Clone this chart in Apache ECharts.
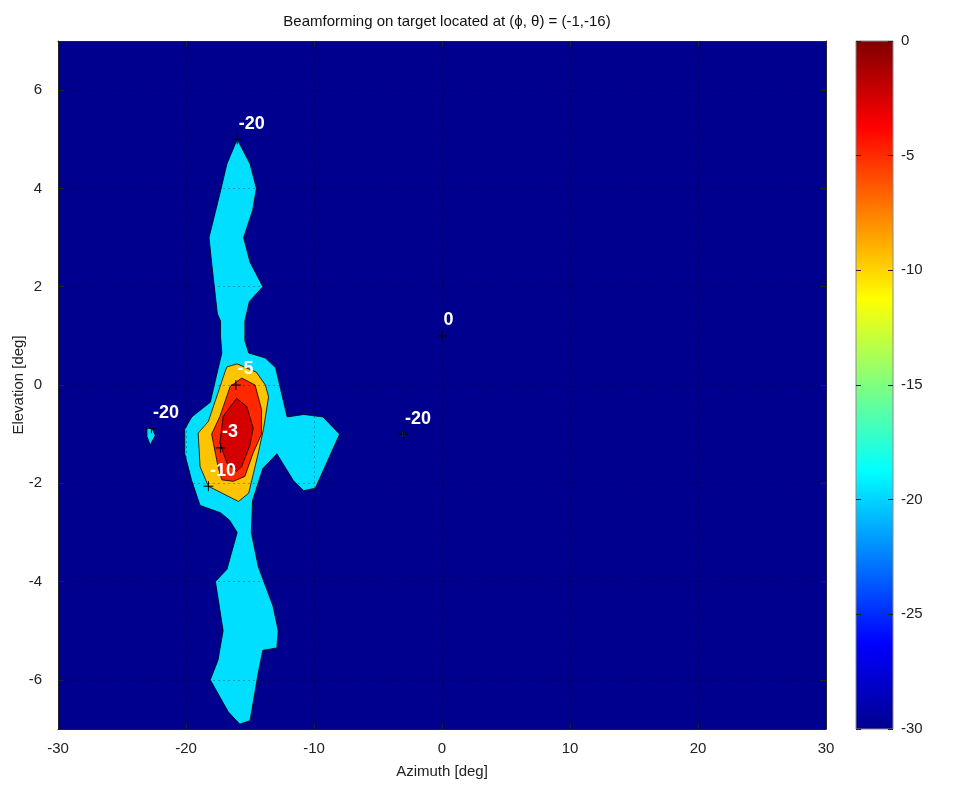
<!DOCTYPE html>
<html><head><meta charset="utf-8">
<script src="https://cdn.jsdelivr.net/npm/echarts@6/dist/echarts.min.js"></script>
<style>html,body{margin:0;padding:0;background:#fff}#c{width:960px;height:790px}</style>
</head><body><div id="c"></div>
<script>
// ---- data (azimuth deg, elevation deg) ----
const contourLevels = [-20, -10, -5, -3];
const levelColors = ['#00dfff', '#ffc400', '#ff2800', '#d40000'];
const backgroundLevelColor = '#00008f';

const contour20Main = [
  [-16.0,5.0],[-15.0,4.5],[-14.5,4.0],[-14.8,3.55],[-15.5,3.0],[-15.0,2.5],[-14.0,2.0],[-15.05,1.7],
  [-15.4,1.3],[-15.4,0.9],[-15.1,0.65],[-13.8,0.55],[-13.0,0.35],[-12.1,-0.65],[-10.8,-0.6],[-9.3,-0.65],
  [-8.0,-1.0],[-9.9,-2.1],[-10.8,-2.15],[-11.6,-1.95],[-12.9,-1.4],[-14.0,-1.7],[-14.8,-2.35],[-14.9,-3.0],
  [-14.35,-3.7],[-13.2,-4.5],[-12.8,-5.0],[-12.9,-5.35],[-14.0,-5.4],[-14.35,-5.85],[-15.0,-6.83],[-15.8,-6.9],
  [-16.7,-6.65],[-18.1,-6.0],[-17.5,-5.6],[-17.1,-5.0],[-17.7,-4.0],[-16.8,-3.75],[-16.0,-3.0],[-16.6,-2.75],
  [-17.3,-2.6],[-18.9,-2.45],[-19.55,-1.95],[-20.1,-1.4],[-20.1,-0.9],[-19.55,-0.65],[-18.1,-0.35],[-17.7,0.1],
  [-17.2,0.65],[-17.3,1.0],[-17.3,1.3],[-17.55,1.45],[-18.0,2.5],[-18.2,3.0],[-17.3,3.95],[-16.8,4.5]
];
const contour20Left = [[-23.05,-0.85],[-22.6,-0.91],[-22.4,-1.03],[-22.8,-1.22],[-23.05,-1.05]];
const contour20Right = [[-3.1,-0.95],[-2.9,-0.97],[-2.95,-1.08],[-3.1,-1.05]];
const contour10 = [
  [-16.8,0.37],[-16.0,0.43],[-14.5,0.26],[-13.8,0.0],[-13.55,-0.24],[-13.95,-0.9],[-14.35,-1.38],
  [-15.1,-2.2],[-15.9,-2.37],[-18.25,-2.06],[-18.9,-1.66],[-19.05,-0.98],[-18.25,-0.74],[-16.95,0.27]
];
const contour5 = [
  [-16.55,-0.03],[-15.65,0.14],[-14.6,0.0],[-14.1,-0.5],[-14.1,-1.0],[-14.75,-1.38],[-15.4,-1.86],
  [-16.3,-1.96],[-17.2,-1.93],[-17.5,-1.66],[-18.0,-1.0],[-17.35,-0.64]
];
const contour3 = [
  [-16.05,-0.27],[-15.25,-0.44],[-14.75,-0.88],[-15.0,-1.22],[-15.65,-1.66],[-16.05,-1.76],
  [-16.8,-1.59],[-17.35,-1.18],[-17.1,-0.64]
];
const labelPoints = [[-16,5],[0,1],[-22.7,-0.88],[-3,-1],[-16.1,0],[-17.3,-1.28],[-18.25,-2.06]];
const labelTexts = ['-20','0','-20','-20','-5','-3','-10'];
const xTicks = [-30,-20,-10,0,10,20,30];
const yTicks = [-6,-4,-2,0,2,4,6];
const colorbarRange = [-30, 0];

const polygonsByLevel = [[contour20Main, contour20Left, contour20Right],[contour10],[contour5],[contour3]];

const FONT = 'Liberation Sans, Arial, Helvetica, sans-serif';
const chart = echarts.init(document.getElementById('c'), null, {renderer:'canvas'});

function polySeries(polys, color){
  return {
    type:'custom', xAxisIndex:0, yAxisIndex:0, clip:true, z:2,
    data: polys.map(p => p[0]),
    renderItem: function(params, api){
      const pts = polys[params.dataIndex].map(p => api.coord(p));
      return {type:'polygon', shape:{points:pts}, style:{fill:color, stroke:'#000', lineWidth:0.8}};
    },
    silent:true
  };
}

const series = polygonsByLevel.map((polys,i) => polySeries(polys, levelColors[i]));
series.push({
  type:'scatter', xAxisIndex:0, yAxisIndex:0, z:10,
  data: labelPoints,
  symbol:'path://M0 5 L10 5 M5 0 L5 10', symbolSize:10,
  itemStyle:{color:'transparent', borderColor:'#000', borderWidth:1, opacity:1},
  label:{show:true, formatter: p => labelTexts[p.dataIndex], position:[7,-19], align:'left', verticalAlign:'top',
    color:'#fff', fontWeight:'bold', fontSize:18, fontFamily:FONT},
  silent:true
});
series.push({
  type:'custom', xAxisIndex:2, yAxisIndex:2, z:2,
  data:[[0, colorbarRange[1]]],
  renderItem: function(params, api){
    const a = api.coord([0, colorbarRange[1]]), b = api.coord([1, colorbarRange[0]]);
    return {type:'rect', shape:{x:a[0], y:a[1], width:b[0]-a[0], height:b[1]-a[1]},
      style:{fill:new echarts.graphic.LinearGradient(0,0,0,1,[
        {offset:0,color:'#800000'},{offset:0.125,color:'#ff0000'},{offset:0.375,color:'#ffff00'},
        {offset:0.625,color:'#00ffff'},{offset:0.875,color:'#0000ff'},{offset:1,color:'#00008f'}]),
        stroke:'#888', lineWidth:1}};
  },
  silent:true
});

const tickLabel = {fontSize:15, color:'#222', fontFamily:FONT};
const gridLineStyle = {type:[2,3], color:'rgba(0,0,0,0.3)', width:1};
const option = {
  animation:false,
  backgroundColor:'#fff',
  title:{text:'Beamforming on target located at (\u03d5, \u03b8) = (-1,-16)', left:442, top:9, textAlign:'center',
    textStyle:{fontSize:15, fontWeight:'normal', color:'#111', fontFamily:FONT}},
  grid:[
    {left:58, top:41, width:768, height:688, show:true, backgroundColor:backgroundLevelColor, borderWidth:0,
      containLabel:false, outerBoundsMode:'none'},
    {left:856, top:41, width:37, height:688, show:false, containLabel:false, outerBoundsMode:'none'}
  ],
  xAxis:[
    {gridIndex:0, type:'value', min:-30, max:30, interval:10, position:'bottom', z:5,
      axisLine:{show:true, onZero:false, lineStyle:{color:'#222', width:1}},
      axisTick:{show:true, inside:true, length:6, lineStyle:{color:'#222'}},
      axisLabel:Object.assign({margin:12}, tickLabel),
      splitLine:{show:true, lineStyle:gridLineStyle},
      name:'Azimuth [deg]', nameLocation:'middle', nameGap:35, nameMoveOverlap:false,
      nameTextStyle:{fontSize:15, color:'#222', fontFamily:FONT}},
    {gridIndex:0, type:'value', min:-30, max:30, interval:10, position:'top', z:5,
      axisLine:{show:true, onZero:false, lineStyle:{color:'#222', width:1}},
      axisTick:{show:true, inside:true, length:6, lineStyle:{color:'#222'}},
      axisLabel:{show:false}, splitLine:{show:false}},
    {gridIndex:1, type:'value', min:0, max:1, show:false}
  ],
  yAxis:[
    {gridIndex:0, type:'value', min:-7, max:7, position:'left', z:5,
      axisLine:{show:true, onZero:false, lineStyle:{color:'#222', width:1}},
      axisTick:{show:true, inside:true, length:6, customValues:yTicks, lineStyle:{color:'#222'}},
      axisLabel:Object.assign({margin:16, customValues:yTicks}, tickLabel),
      splitLine:{show:true, lineStyle:gridLineStyle},
      name:'Elevation [deg]', nameLocation:'middle', nameGap:32, nameMoveOverlap:false,
      nameTextStyle:{fontSize:15, color:'#222', fontFamily:FONT}},
    {gridIndex:0, type:'value', min:-7, max:7, position:'right', z:5,
      axisLine:{show:true, onZero:false, lineStyle:{color:'#222', width:1}},
      axisTick:{show:true, inside:true, length:6, customValues:yTicks, lineStyle:{color:'#222'}},
      axisLabel:{show:false}, splitLine:{show:false}},
    {gridIndex:1, type:'value', min:colorbarRange[0], max:colorbarRange[1], interval:5, position:'right', z:5,
      axisLine:{show:false, onZero:false},
      axisTick:{show:true, inside:true, length:5, lineStyle:{color:'#222'}},
      axisLabel:Object.assign({margin:8}, tickLabel),
      splitLine:{show:false}},
    {gridIndex:1, type:'value', min:colorbarRange[0], max:colorbarRange[1], interval:5, position:'left', z:5,
      axisLine:{show:false, onZero:false},
      axisTick:{show:true, inside:true, length:5, lineStyle:{color:'#222'}},
      axisLabel:{show:false}, splitLine:{show:false}}
  ],
  series: series
};
chart.setOption(option);
</script>
</body></html>
